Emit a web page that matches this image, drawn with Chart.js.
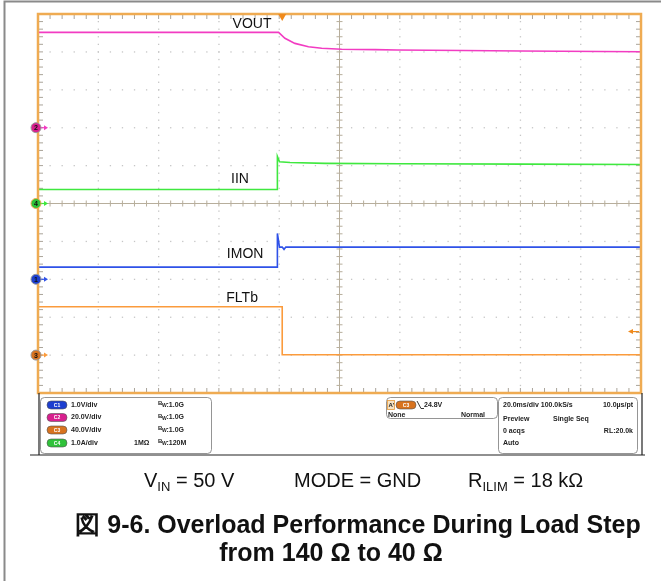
<!DOCTYPE html>
<html>
<head>
<meta charset="utf-8">
<script src="https://cdn.jsdelivr.net/npm/chart.js@4/dist/chart.umd.min.js"></script>
<style>
  html, body { margin: 0; padding: 0; background: #fff; }
  canvas { display: block; }
</style>
</head>
<body>
<canvas id="scope" width="661" height="581"></canvas>
<script>
// Time base: 20 ms/div over 10 divisions, t = 0 at the C3 falling-edge trigger
const timeRange = [-81, 119]

// C2 VOUT (V)
const voutTime = [-81, -1.2, 0.9, 4.2, 8.7, 13.1, 19.7, 30.8, 38.1, 60, 79, 119]
const voutVolts = [50.3, 50.3, 47.2, 44.5, 42.7, 41.9, 41.4, 41.2, 41.0, 40.7, 40.5, 40.1]

// C4 IIN (A)
const iinTime = [-81, -1.6, -1.6, -0.9, 2.6, 14.2, 39, 80, 119]
const iinAmps = [0.37, 0.37, 1.24, 1.10, 1.08, 1.06, 1.05, 1.04, 1.03]

// C1 IMON (V)
const imonTime = [-81, -1.6, -1.6, -0.9, 0, 0.6, 1.2, 119]
const imonVolts = [0.32, 0.32, 1.21, 0.85, 0.85, 0.79, 0.85, 0.85]

// C3 FLTb (V)
const fltbTime = [-81, 0, 0, 119]
const fltbVolts = [51, 51, 0.3, 0.3]

// vertical settings per channel: units/div and ground offset (div)
const channelIds = ['C1', 'C2', 'C3', 'C4']
const unitsPerDiv = [1.0, 20.0, 40.0, 1.0]
const offsetDiv = [-2, 2, -4, 0]
const channelColors = ['#2f52e8', '#f23cc2', '#fb9b3c', '#3fe83f']
const badgeColors = ['#1d3fd0', '#d81f8e', '#d8731f', '#2fc23a']

const triggerLevel = 24.8

// readout panel text
const chanReadout = ['1.0V/div', '20.0V/div', '40.0V/div', '1.0A/div']
const chanBandwidth = ['1.0G', '1.0G', '1.0G', '120M']
const timeReadout = [
  ['20.0ms/div 100.0kS/s', '10.0\u00b5s/pt'],
  ['Preview', 'Single Seq'],
  ['0 acqs', 'RL:20.0k'],
  ['Auto', '']
]

const FONT = '"Liberation Sans", Arial, sans-serif'
const INK = '#222'

function toDiv(ch, v) {
  return offsetDiv[ch] + v / unitsPerDiv[ch]
}

function trace(ch, times, values) {
  return {
    label: channelIds[ch],
    data: times.map((t, i) => ({ x: t, y: toDiv(ch, values[i]) })),
    borderColor: channelColors[ch],
    borderWidth: 1.6,
    pointRadius: 0,
    tension: 0
  }
}

// dotted graticule, centre cross and edge ticks
const graticule = {
  id: 'graticule',
  beforeDatasetsDraw(chart) {
    const { ctx, chartArea: a } = chart
    const dw = (a.right - a.left) / 10
    const dh = (a.bottom - a.top) / 10
    ctx.save()
    ctx.fillStyle = '#c6c6c6'
    for (let i = 1; i < 10; i++) {
      if (i === 5) continue
      const gx = a.left + i * dw
      const gy = a.top + i * dh
      for (let k = 1; k < 50; k++) {
        ctx.fillRect(gx - 0.6, a.top + k * dh / 5 - 0.6, 1.3, 1.3)
        ctx.fillRect(a.left + k * dw / 5 - 0.6, gy - 0.6, 1.3, 1.3)
      }
    }
    const cx = a.left + 5 * dw
    const cy = a.top + 5 * dh
    ctx.strokeStyle = '#b7ae9c'
    ctx.lineWidth = 1
    ctx.beginPath()
    ctx.moveTo(cx, a.top); ctx.lineTo(cx, a.bottom)
    ctx.moveTo(a.left, cy); ctx.lineTo(a.right, cy)
    for (let k = 1; k < 50; k++) {
      const ty = a.top + k * dh / 5
      const tx = a.left + k * dw / 5
      ctx.moveTo(cx - 3, ty); ctx.lineTo(cx + 3, ty)
      ctx.moveTo(tx, cy - 3); ctx.lineTo(tx, cy + 3)
    }
    ctx.stroke()
    ctx.strokeStyle = '#aaa49a'
    ctx.beginPath()
    for (let k = 1; k < 50; k++) {
      const ty = a.top + k * dh / 5
      const tx = a.left + k * dw / 5
      ctx.moveTo(a.left, ty); ctx.lineTo(a.left + 5, ty)
      ctx.moveTo(a.right, ty); ctx.lineTo(a.right - 5, ty)
      ctx.moveTo(tx, a.top); ctx.lineTo(tx, a.top + 5)
      ctx.moveTo(tx, a.bottom); ctx.lineTo(tx, a.bottom - 5)
    }
    ctx.stroke()
    ctx.restore()
  }
}

// orange frame, channel markers, trigger markers and trace names
const screenOverlay = {
  id: 'screenOverlay',
  afterDatasetsDraw(chart) {
    const { ctx, chartArea: a, scales: { x, y } } = chart
    ctx.save()
    ctx.strokeStyle = '#efab52'
    ctx.lineWidth = 2.5
    ctx.strokeRect(a.left, a.top, a.right - a.left, a.bottom - a.top)

    // ground markers on the left edge
    channelIds.forEach((id, ch) => {
      const py = y.getPixelForValue(offsetDiv[ch])
      ctx.strokeStyle = channelColors[ch]
      ctx.fillStyle = channelColors[ch]
      ctx.lineWidth = 1.2
      ctx.beginPath()
      ctx.moveTo(a.left + 2, py); ctx.lineTo(a.left + 8, py)
      ctx.stroke()
      ctx.beginPath()
      ctx.moveTo(a.left + 10, py)
      ctx.lineTo(a.left + 6, py - 2.5)
      ctx.lineTo(a.left + 6, py + 2.5)
      ctx.closePath()
      ctx.fill()
      ctx.beginPath()
      ctx.arc(a.left - 2, py, 5, 0, Math.PI * 2)
      ctx.fillStyle = badgeColors[ch]
      ctx.fill()
      ctx.strokeStyle = ch === 3 ? '#efab52' : '#9a9a9a'
      ctx.lineWidth = 1
      ctx.stroke()
      ctx.fillStyle = '#111'
      ctx.font = 'bold 7px ' + FONT
      ctx.textAlign = 'center'
      ctx.textBaseline = 'middle'
      ctx.fillText(id.slice(1), a.left - 2, py + 0.5)
    })

    // trigger position
    const tx = x.getPixelForValue(0)
    ctx.fillStyle = '#f08a1c'
    ctx.beginPath()
    ctx.moveTo(tx - 4, a.top)
    ctx.lineTo(tx + 4, a.top)
    ctx.lineTo(tx, a.top + 7)
    ctx.closePath()
    ctx.fill()

    // trigger level on C3
    const ly = y.getPixelForValue(toDiv(2, triggerLevel))
    ctx.strokeStyle = '#f08a1c'
    ctx.lineWidth = 1.2
    ctx.beginPath()
    ctx.moveTo(a.right - 2, ly); ctx.lineTo(a.right - 10, ly)
    ctx.stroke()
    ctx.beginPath()
    ctx.moveTo(a.right - 13, ly)
    ctx.lineTo(a.right - 8, ly - 2.5)
    ctx.lineTo(a.right - 8, ly + 2.5)
    ctx.closePath()
    ctx.fill()

    // trace names
    ctx.fillStyle = '#111'
    ctx.font = '14px ' + FONT
    ctx.textAlign = 'center'
    ctx.textBaseline = 'middle'
    ctx.fillText('VOUT', x.getPixelForValue(-10), y.getPixelForValue(4.74))
    ctx.fillText('IIN', x.getPixelForValue(-14), y.getPixelForValue(0.65))
    ctx.fillText('IMON', x.getPixelForValue(-12.3), y.getPixelForValue(-1.33))
    ctx.fillText('FLTb', x.getPixelForValue(-13.3), y.getPixelForValue(-2.49))
    ctx.restore()
  }
}

// text with subscripted runs
function drawRuns(ctx, runs, x, y, size, subSize) {
  let cx = x
  runs.forEach(([text, sub]) => {
    ctx.font = (sub ? subSize : size) + 'px ' + FONT
    ctx.fillText(text, cx, sub ? y + size * 0.22 : y)
    cx += ctx.measureText(text).width
  })
  return cx
}

function badge(ctx, x, y, color, text) {
  ctx.save()
  ctx.beginPath()
  ctx.roundRect(x, y - 4, 20, 8, 4)
  ctx.fillStyle = color
  ctx.fill()
  ctx.strokeStyle = '#555'
  ctx.lineWidth = 0.6
  ctx.stroke()
  ctx.fillStyle = '#fff'
  ctx.font = 'bold 5px ' + FONT
  ctx.textAlign = 'center'
  ctx.fillText(text, x + 10, y + 0.3)
  ctx.restore()
}

// readout panel under the screen, plus caption and figure title
const readout = {
  id: 'readout',
  afterDraw(chart) {
    const { ctx, chartArea: a } = chart
    ctx.save()

    // page frame
    ctx.strokeStyle = '#8a8a8a'
    ctx.lineWidth = 2
    ctx.beginPath()
    ctx.moveTo(4.5, 581); ctx.lineTo(4.5, 1.5); ctx.lineTo(661, 1.5)
    ctx.stroke()

    // scope bezel around the readout
    ctx.strokeStyle = '#222'
    ctx.lineWidth = 1.2
    ctx.beginPath()
    ctx.moveTo(a.left + 1, a.bottom); ctx.lineTo(a.left + 1, 455)
    ctx.moveTo(30, 455); ctx.lineTo(645, 455)
    ctx.moveTo(a.right + 1, a.bottom); ctx.lineTo(a.right + 1, 455)
    ctx.stroke()

    ctx.strokeStyle = '#7a7a7a'
    ctx.lineWidth = 0.8
    ctx.beginPath(); ctx.roundRect(40.5, 397.5, 171, 56, 4); ctx.stroke()
    ctx.beginPath(); ctx.roundRect(386.5, 397.5, 111, 21, 4); ctx.stroke()
    ctx.beginPath(); ctx.roundRect(498.5, 397.5, 139, 56, 4); ctx.stroke()

    ctx.textBaseline = 'middle'
    ctx.textAlign = 'left'
    const rows = [405, 417.5, 430, 443]
    channelIds.forEach((id, ch) => {
      const ry = rows[ch]
      badge(ctx, 47, ry, badgeColors[ch], id)
      ctx.fillStyle = INK
      ctx.font = 'bold 7px ' + FONT
      ctx.fillText(chanReadout[ch], 71, ry)
      if (ch === 3) ctx.fillText('1M\u03a9', 134, ry)
      ctx.font = 'bold 6px ' + FONT
      ctx.fillText('B', 158, ry - 1.5)
      ctx.font = 'bold 5px ' + FONT
      ctx.fillText('W', 162, ry + 1)
      ctx.font = 'bold 7px ' + FONT
      ctx.fillText(':' + chanBandwidth[ch], 166.5, ry)
    })

    // trigger readout
    ctx.strokeStyle = '#e79a3a'
    ctx.lineWidth = 0.8
    ctx.fillStyle = '#f6e3c4'
    ctx.fillRect(387.5, 400.5, 7, 9)
    ctx.strokeRect(387.5, 400.5, 7, 9)
    ctx.fillStyle = INK
    ctx.font = 'bold 6px ' + FONT
    ctx.fillText("A'", 388.5, 405)
    badge(ctx, 396, 405, badgeColors[2], 'C3')
    ctx.strokeStyle = INK
    ctx.lineWidth = 0.9
    ctx.beginPath()
    ctx.moveTo(417, 401); ctx.lineTo(421, 408.5); ctx.lineTo(424, 408.5)
    ctx.stroke()
    ctx.fillStyle = INK
    ctx.font = 'bold 7px ' + FONT
    ctx.fillText(triggerLevel.toFixed(1) + 'V', 424, 405)
    ctx.fillText('None', 388, 415)
    ctx.textAlign = 'right'
    ctx.fillText('Normal', 485, 415)

    // acquisition readout
    const trows = [405, 419, 431, 443]
    timeReadout.forEach(([left, right], i) => {
      ctx.textAlign = 'left'
      ctx.fillText(left, 503, trows[i])
      if (!right) return
      if (i === 1) {
        ctx.fillText(right, 553, trows[i])
      } else {
        ctx.textAlign = 'right'
        ctx.fillText(right, 633, trows[i])
      }
    })

    // test conditions
    ctx.fillStyle = '#111'
    ctx.textAlign = 'left'
    ctx.textBaseline = 'alphabetic'
    drawRuns(ctx, [['V'], ['IN', true], [' = 50 V']], 144, 487, 20, 13)
    drawRuns(ctx, [['MODE = GND']], 294, 487, 20, 13)
    drawRuns(ctx, [['R'], ['ILIM', true], [' = 18 k\u03a9']], 468, 487, 20, 13)

    // figure title
    ctx.font = 'bold 25px ' + FONT
    ctx.textAlign = 'center'
    ctx.fillText('\u56f3 9-6. Overload Performance During Load Step', 358, 533)
    ctx.fillText('from 140 \u03a9 to 40 \u03a9', 331, 561)
    ctx.restore()
  }
}

new Chart(document.getElementById('scope'), {
  type: 'line',
  data: {
    datasets: [
      trace(2, fltbTime, fltbVolts),
      trace(0, imonTime, imonVolts),
      trace(3, iinTime, iinAmps),
      trace(1, voutTime, voutVolts)
    ]
  },
  options: {
    responsive: false,
    animation: false,
    layout: { padding: { left: 38, right: 20, top: 14, bottom: 188 } },
    scales: {
      x: { type: 'linear', min: timeRange[0], max: timeRange[1], display: false },
      y: { type: 'linear', min: -5, max: 5, display: false }
    },
    plugins: {
      legend: { display: false },
      tooltip: { enabled: false }
    }
  },
  plugins: [graticule, screenOverlay, readout]
})
</script>
</body>
</html>
